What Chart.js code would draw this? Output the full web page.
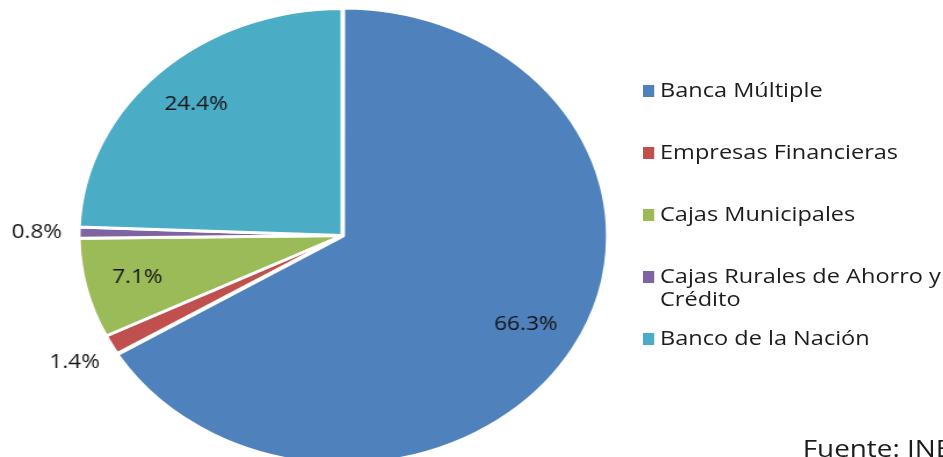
<!DOCTYPE html>
<html>
<head>
<meta charset="utf-8">
<script src="https://cdn.jsdelivr.net/npm/chart.js@4/dist/chart.umd.min.js"></script>
<style>
  html, body { margin: 0; padding: 0; background: #fff; }
  body { width: 943px; height: 457px; overflow: hidden; position: relative; font-family: "Open Sans", sans-serif; }
  /* the original picture is stretched sideways, so stretch the whole thing */
  #stretch { position: absolute; left: 0; top: 0; width: 813px; height: 470px; transform: scaleX(1.16); transform-origin: 0 0; }
  #pie { position: absolute; left: 0; top: 0; }
  #legend { position: absolute; left: 554px; top: 78px; width: 270px; }
  .item { height: 62px; display: flex; align-items: flex-start; font-size: 20.3px; line-height: 23px; color: #1c1c1c; white-space: normal; }
  .item span:last-child { width: 250px; }
  .box { width: 10px; height: 12px; flex: none; margin: 7px 5px 0 0; }
  #source { position: absolute; left: 692px; top: 431px; font-size: 24px; line-height: 33px; color: #1c1c1c; white-space: nowrap; }
</style>
</head>
<body>
<div id="stretch">
  <canvas id="pie" width="560" height="470"></canvas>
  <div id="legend"></div>
  <div id="source">Fuente: INEI</div>
</div>
<script>
// === Data ===
const categories = ['Banca Múltiple', 'Empresas Financieras', 'Cajas Municipales', 'Cajas Rurales de Ahorro y Crédito', 'Banco de la Nación'];
const shares = [66.3, 1.4, 7.1, 0.8, 24.4];
const colors = ['#4f81bd', '#c0504d', '#9bbb59', '#8064a2', '#4bacc6'];

// === Percent labels, inside big slices, outside small ones ===
const pctLabels = {
  id: 'pctLabels',
  afterDatasetsDraw(chart) {
    const ctx = chart.ctx;
    const meta = chart.getDatasetMeta(0);
    ctx.save();
    ctx.font = '19.5px "Open Sans", sans-serif';
    ctx.fillStyle = '#151515';
    ctx.textAlign = 'center';
    ctx.textBaseline = 'middle';
    meta.data.forEach((arc, i) => {
      const p = arc.getProps(['x', 'y', 'startAngle', 'endAngle', 'outerRadius'], true);
      const mid = (p.startAngle + p.endAngle) / 2;
      const k = shares[i] < 2 ? 1.16 : 0.8;
      const x = p.x + Math.cos(mid) * p.outerRadius * k;
      const y = p.y + Math.sin(mid) * p.outerRadius * k;
      ctx.fillText(shares[i].toFixed(1) + '%', x, y);
    });
    ctx.restore();
  }
};

new Chart(document.getElementById('pie'), {
  type: 'pie',
  data: {
    labels: categories,
    datasets: [{
      data: shares,
      backgroundColor: colors,
      borderColor: '#ffffff',
      borderWidth: 3,
      offset: [4, 0, 0, 0, 0]
    }]
  },
  options: {
    responsive: false,
    animation: false,
    radius: 227,
    layout: { padding: { top: 9, bottom: 8, left: 68, right: 38 } },
    plugins: { legend: { display: false }, tooltip: { enabled: false }, title: { display: false } }
  },
  plugins: [pctLabels]
});

// === Legend ===
const legend = document.getElementById('legend');
categories.forEach((c, i) => {
  const row = document.createElement('div');
  row.className = 'item';
  const box = document.createElement('span');
  box.className = 'box';
  box.style.background = colors[i];
  const txt = document.createElement('span');
  txt.textContent = c;
  row.appendChild(box);
  row.appendChild(txt);
  legend.appendChild(row);
});
</script>
</body>
</html>
